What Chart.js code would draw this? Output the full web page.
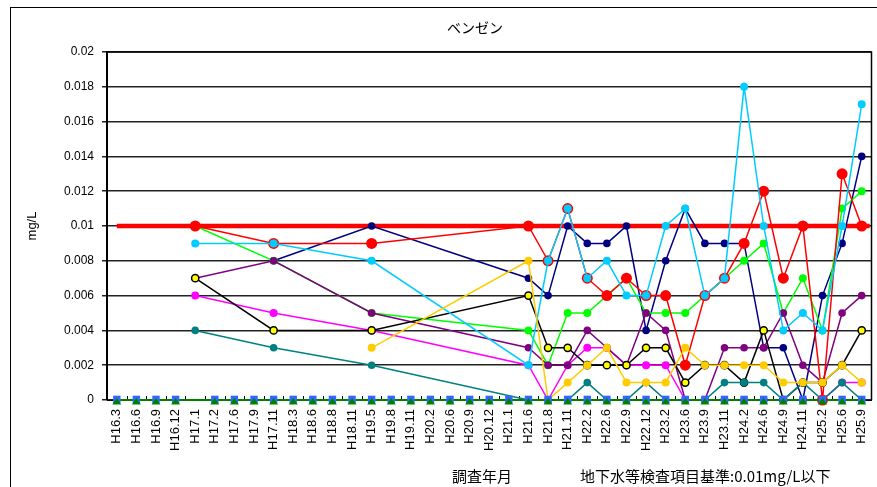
<!DOCTYPE html>
<html lang="ja">
<head>
<meta charset="utf-8">
<title>ベンゼン</title>
<script src="https://cdn.jsdelivr.net/npm/chart.js@4.4.1/dist/chart.umd.min.js"></script>
<style>
  html, body { margin: 0; padding: 0; background: #fff; }
  #wrap { position: relative; width: 877px; height: 487px; }
</style>
</head>
<body>
<div id="wrap"><canvas id="benzeneChart" width="877" height="487"></canvas></div>
<script>
// sampling dates (Heisei year.month)
const categories = [
  'H16.3', 'H16.6', 'H16.9', 'H16.12', 'H17.1', 'H17.2', 'H17.6', 'H17.9', 'H17.11',
  'H18.3', 'H18.6', 'H18.8', 'H18.11', 'H19.5', 'H19.8', 'H19.11', 'H20.2', 'H20.6',
  'H20.9', 'H20.12', 'H21.1', 'H21.6', 'H21.8', 'H21.11', 'H22.2', 'H22.6', 'H22.9',
  'H22.12', 'H23.2', 'H23.6', 'H23.9', 'H23.11', 'H24.2', 'H24.6', 'H24.9', 'H24.11',
  'H25.2', 'H25.6', 'H25.9'
];

const _ = null;

// measured values (mg/L), one array per well
const redWell     = [_,_,_,_,0.010,_,_,_,0.009,_,_,_,_,0.009,_,_,_,_,_,_,_,
  0.010,0.008,0.011,0.007,0.006,0.007,0.006,0.006,0.002,0.006,0.007,0.009,0.012,0.007,0.010,0,0.013,0.010];
const cyanWell    = [_,_,_,_,0.009,_,_,_,0.009,_,_,_,_,0.008,_,_,_,_,_,_,_,
  0.002,0.008,0.011,0.007,0.008,0.006,0.006,0.010,0.011,0.006,0.007,0.018,0.010,0.004,0.005,0.004,0.010,0.017];
const navyWell    = [_,_,_,_,_,_,_,_,0.008,_,_,_,_,0.010,_,_,_,_,_,_,_,
  0.007,0.006,0.010,0.009,0.009,0.010,0.004,0.008,0.011,0.009,0.009,0.009,0.003,0.003,0,0.006,0.009,0.014];
const greenWell   = [_,_,_,_,0.010,_,_,_,0.008,_,_,_,_,0.005,_,_,_,_,_,_,_,
  0.004,0.002,0.005,0.005,0.006,0.007,0.005,0.005,0.005,0.006,0.007,0.008,0.009,0.005,0.007,0.004,0.011,0.012];
const purpleWell  = [_,_,_,_,0.007,_,_,_,0.008,_,_,_,_,0.005,_,_,_,_,_,_,_,
  0.003,0.002,0.002,0.004,0.003,0.002,0.005,0.004,0,0,0.003,0.003,0.003,0.005,0.002,0.001,0.005,0.006];
const yellowWell  = [_,_,_,_,0.007,_,_,_,0.004,_,_,_,_,0.004,_,_,_,_,_,_,_,
  0.006,0.003,0.003,0.002,0.002,0.002,0.003,0.003,0.001,0.002,0.002,0.001,0.004,0,0.001,0.001,0.002,0.004];
const magentaWell = [_,_,_,_,0.006,_,_,_,0.005,_,_,_,_,0.004,_,_,_,_,_,_,_,
  0.002,0,0.002,0.003,0.003,0.002,0.002,0.002,0,0,0,0,0,0,0,0,0.001,0.001];
const tealWell    = [_,_,_,_,0.004,_,_,_,0.003,_,_,_,_,0.002,_,_,_,_,_,_,_,
  0,0,0,0.001,0,0,0.001,0,0,0,0.001,0.001,0.001,0,0.001,0,0.001,0];
const orangeWell  = [_,_,_,_,_,_,_,_,_,_,_,_,_,0.003,_,_,_,_,_,_,_,
  0.008,0,0.001,0.002,0.003,0.001,0.001,0.001,0.003,0.002,0.002,0.002,0.002,0.001,0.001,0.001,0.002,0.001];
const squareWell  = [0,0,0,0,_,0,0,0,0,0,0,0,0,0,0,0,0,0,0,0,0,
  0,0,0,0,0,0,0,0,0,0,0,0,0,0,0,0,0,0];
const triangleWell = [0,0,0,0,_,0,0,0,0,0,0,0,0,0,0,0,0,0,0,0,0,
  0,0,0,0,0,0,0,0,0,0,0,0,0,0,0,0,0,0];

// groundwater standard 0.01 mg/L
const standardLimit = 0.01;

const yTickLabels = ['0', '0.002', '0.004', '0.006', '0.008', '0.01',
  '0.012', '0.014', '0.016', '0.018', '0.02'];

const chartTitle = 'ベンゼン';
const yTitle = 'mg/L';
const xTitle = '調査年月';
const noteText = '地下水等検査項目基準:0.01mg/L以下';

const squareColor = '#3366ff';
const triangleColor = '#008000';

// build a line dataset
function series(label, data, color, opts) {
  return Object.assign({
    label: label,
    data: data,
    borderColor: color,
    backgroundColor: color,
    pointBackgroundColor: color,
    pointBorderColor: color,
    pointBorderWidth: 0,
    borderWidth: 1.5,
    pointRadius: 4,
    spanGaps: true,
    clip: false,
    tension: 0
  }, opts || {});
}

// first dataset ends up on top; the two zero rows get their markers from the plugin
const datasets = [
  series('triangle', triangleWell, triangleColor, { pointRadius: 0, borderWidth: 2 }),
  series('square', squareWell, squareColor, { pointRadius: 0, borderWidth: 1 }),
  series('orange', orangeWell, '#ffcc00'),
  series('cyan', cyanWell, '#00ccff'),
  series('red', redWell, '#ff0000', { pointRadius: 5.5 }),
  series('teal', tealWell, '#008080', { pointRadius: 3.8 }),
  series('yellow', yellowWell, '#000000', { pointBackgroundColor: '#ffff00', pointBorderColor: '#000', pointBorderWidth: 1.5, pointRadius: 3.6 }),
  series('purple', purpleWell, '#800080', { pointRadius: 3.8 }),
  series('magenta', magentaWell, '#ff00ff'),
  series('green', greenWell, '#00ff00'),
  series('navy', navyWell, '#000080', { pointRadius: 3.8 })
];

const decorPlugin = {
  id: 'decor',
  beforeDatasetsDraw(chart) {
    const { ctx, chartArea: a, scales: { x, y } } = chart;
    ctx.save();
    // small inside tick marks between categories
    ctx.strokeStyle = '#000';
    ctx.lineWidth = 1;
    for (let i = 1; i < categories.length; i++) {
      const px = Math.round(x.getPixelForValue(i - 0.5)) + 0.5;
      ctx.beginPath();
      ctx.moveTo(px, a.bottom);
      ctx.lineTo(px, a.bottom - 4);
      ctx.stroke();
    }
    // standard line
    const sy = y.getPixelForValue(standardLimit);
    ctx.strokeStyle = '#ff0000';
    ctx.lineWidth = 4.5;
    ctx.beginPath();
    ctx.moveTo(x.getPixelForValue(0), sy);
    ctx.lineTo(x.getPixelForValue(categories.length - 1) + 8, sy);
    ctx.stroke();
    ctx.restore();
  },
  afterDraw(chart) {
    const { ctx, chartArea: a, scales: { x, y } } = chart;
    ctx.save();

    // square and triangle markers of the two zero rows
    squareWell.forEach((v, i) => {
      if (v === null) return;
      const px = x.getPixelForValue(i);
      const py = y.getPixelForValue(v);
      ctx.fillStyle = squareColor;
      ctx.fillRect(px - 3.7, py - 4.3, 7.4, 7.4);
    });
    triangleWell.forEach((v, i) => {
      if (v === null) return;
      const px = x.getPixelForValue(i);
      const py = y.getPixelForValue(v);
      ctx.fillStyle = triangleColor;
      ctx.beginPath();
      ctx.moveTo(px, py - 2);
      ctx.lineTo(px + 4.5, py + 4.5);
      ctx.lineTo(px - 4.5, py + 4.5);
      ctx.closePath();
      ctx.fill();
    });

    // outer frame and plot frame
    ctx.strokeStyle = '#000';
    ctx.lineWidth = 1;
    ctx.strokeRect(10.5, 7.5, 900, 520);
    ctx.lineWidth = 1.5;
    ctx.beginPath();
    ctx.moveTo(a.left, a.top);
    ctx.lineTo(a.right, a.top);
    ctx.lineTo(a.right, a.bottom);
    ctx.stroke();

    ctx.fillStyle = '#000';
    ctx.textBaseline = 'middle';
    ctx.textAlign = 'center';
    ctx.font = '14px "Noto Sans CJK JP"';
    ctx.fillText(chartTitle, 475, 28);

    ctx.font = '15px "Noto Sans CJK JP"';
    ctx.fillText(xTitle, 482, 476);
    ctx.textAlign = 'left';
    ctx.fillText(noteText, 580, 476);

    ctx.translate(32, 226);
    ctx.rotate(-Math.PI / 2);
    ctx.textAlign = 'center';
    ctx.font = '13px "Liberation Sans"';
    ctx.fillText(yTitle, 0, 0);
    ctx.restore();
  }
};

new Chart(document.getElementById('benzeneChart'), {
  type: 'line',
  data: { labels: categories, datasets: datasets },
  options: {
    responsive: false,
    animation: false,
    devicePixelRatio: 1,
    events: [],
    layout: { padding: { top: 52, right: 3, bottom: 0, left: 0 } },
    plugins: {
      legend: { display: false },
      tooltip: { enabled: false },
      title: { display: false }
    },
    scales: {
      x: {
        offset: true,
        grid: { display: false, drawTicks: false, offset: true },
        border: { display: true, color: '#000', width: 1 },
        ticks: {
          autoSkip: false,
          maxRotation: 90,
          minRotation: 90,
          padding: 9,
          color: '#000',
          font: { family: '"Liberation Sans"', size: 13 }
        },
        afterFit(scale) {
          scale.height = 87;
          scale.paddingLeft = 0;
          scale.paddingRight = 0;
        }
      },
      y: {
        min: 0,
        max: 0.02,
        grid: { color: '#222', lineWidth: 1.5, drawTicks: true, tickLength: 5 },
        border: { display: true, color: '#000', width: 2 },
        ticks: {
          stepSize: 0.002,
          padding: 8,
          color: '#000',
          font: { family: '"Liberation Sans"', size: 12 },
          callback: function (value, index) { return yTickLabels[index]; }
        },
        afterFit(scale) {
          scale.width = 107;
          scale.paddingTop = 0;
          scale.paddingBottom = 0;
        }
      }
    }
  },
  plugins: [decorPlugin]
});
</script>
</body>
</html>
